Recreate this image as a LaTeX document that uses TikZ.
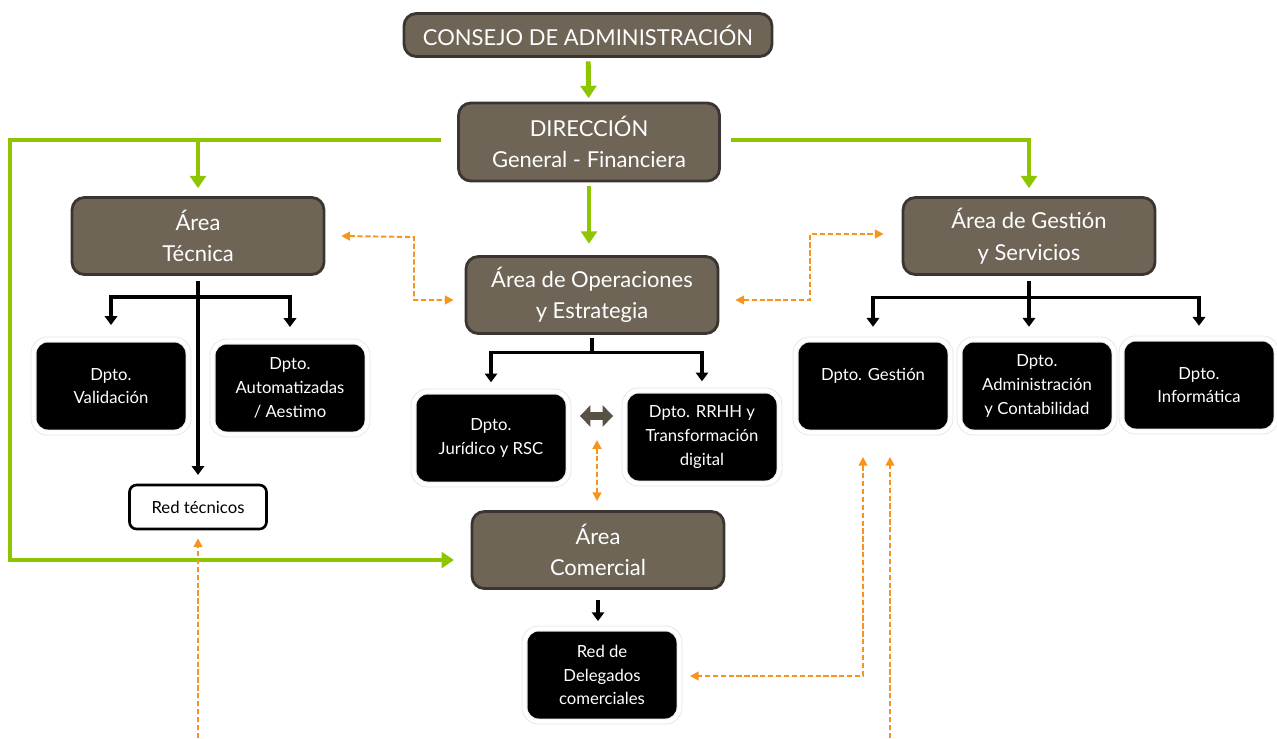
\documentclass[tikz,border=0pt]{standalone}
\usepackage{fontspec}
\setmainfont{Lato}
\usetikzlibrary{arrows.meta}
\definecolor{taupe}{RGB}{110,101,86}
\definecolor{taupedark}{RGB}{58,53,48}
\definecolor{grisflecha}{RGB}{88,81,70}
\definecolor{lima}{RGB}{141,198,0}
\definecolor{naranja}{RGB}{247,148,30}
\begin{document}
\begin{tikzpicture}[x=0.02cm, y=-0.02cm,
    area/.style={draw=taupedark, line width=1.6pt, fill=taupe, rounded corners=7pt,
        text=white, align=center, font=\fontsize{12.5}{18}\selectfont,
        minimum width=5.04cm, minimum height=1.54cm, inner sep=2pt},
    dpto/.style={draw=black!10, double=white, double distance=2.4pt, line width=0.5pt,
        fill=black, rounded corners=8pt, text=white, align=center,
        font=\fontsize{9.5}{13.5}\selectfont,
        minimum width=3.1cm, minimum height=1.86cm, inner sep=1pt},
    pnt/.tip={Triangle[length=5pt,width=5pt]},
    verde/.style={draw=lima, line width=2.8pt, -{Triangle[length=7pt,width=9pt]}},
    negro/.style={draw=black, line width=1.8pt, -{Triangle[length=5pt,width=7pt]}},
    puntos/.style={draw=naranja, line width=1.1pt, dash pattern=on 3pt off 1.5pt, pnt-pnt},
    gris/.style={draw=grisflecha, line width=4pt,
        {Triangle[length=6pt,width=12pt]}-{Triangle[length=6pt,width=12pt]}}]
\useasboundingbox (0,0) rectangle (1277,738);
% areas
\node[area, minimum width=7.36cm, minimum height=0.86cm] (consejo) at (588,35) {CONSEJO DE ADMINISTRACIÓN};
\node[area, minimum width=5.22cm, minimum height=1.56cm] (direccion) at (589,142) {DIRECCIÓN\\General - Financiera};
\node[area] (tecnica) at (198,236) {Área\\Técnica};
\node[area] (operaciones) at (592,295) {Área de Operaciones\\y Estrategia};
\node[area] (gestion) at (1029,236) {Área de Gestión\\y Servicios};
\node[area] (comercial) at (598,550) {Área\\Comercial};
% departamentos
\node[dpto] (validacion) at (111,386) {Dpto.\\Validación};
\node[dpto] (automat) at (290,388) {Dpto.\\Automatizadas\\/ Aestimo};
\node[dpto] (juridico) at (491,438) {Dpto.\\Jurídico y RSC};
\node[dpto] (rrhh) at (702,437) {Dpto. RRHH y\\Transformación\\digital};
\node[dpto] (dgestion) at (873,386) {Dpto. Gestión\\ \phantom{x}};
\node[dpto] (admin) at (1037,386) {Dpto.\\Administración\\y Contabilidad};
\node[dpto] (informatica) at (1199,385) {Dpto.\\Informática};
\node[dpto] (delegados) at (602,675) {Red de\\Delegados\\comerciales};
\node[draw=black, line width=1.5pt, fill=white, rounded corners=4pt,
    minimum width=2.74cm, minimum height=0.88cm,
    font=\fontsize{9.5}{10}\selectfont] (redtec) at (198,507) {Red técnicos};
% verdes
\draw[verde, shorten <=2pt, shorten >=2pt] (consejo) -- (direccion);
\draw[verde, shorten <=2pt, shorten >=6.5pt] (direccion.south) -- (direccion.south |- operaciones.north);
\draw[verde, shorten >=9.5pt] ([shift={(-16,-2)}]direccion.west) -| (10,560) -- ([shift={(0,10)}]comercial.west);
\draw[verde, shorten >=4.5pt] (tecnica.north |- direccion.west) ++(0,-2) -- (tecnica.north);
\draw[verde, shorten >=4.5pt] ([shift={(10,-2)}]direccion.east) -| (gestion.north);
% negros
\draw[negro, shorten <=3pt, shorten >=5pt] (tecnica.south) -- (redtec.north);
\coordinate (bt) at (198,297);
\draw[negro, shorten >=8pt] (bt) -| (validacion.north);
\draw[negro, shorten >=8pt] (bt) -| (automat.north);
\draw[line width=1.8pt, shorten <=2pt] (operaciones.south) -- ++(0,18) coordinate (bo);
\draw[negro, shorten >=5pt] (bo) -| (juridico.north);
\draw[negro, shorten >=5pt] (bo) -| (rrhh.north);
\draw[line width=1.8pt, shorten <=3pt] (gestion.south) -- ++(0,22) coordinate (bg);
\draw[negro, shorten >=7pt] (bg) -| (dgestion.north);
\draw[negro, shorten >=7pt] (bg) -- (bg |- admin.north);
\draw[negro, shorten >=7pt] (bg) -| (informatica.north);
\draw[negro, shorten <=6pt, shorten >=4pt] (comercial.south) -- (comercial.south |- delegados.north);
\draw[gris] ([shift={(11,-22)}]juridico.east) -- ([shift={(-11,-21)}]rrhh.west);
% naranjas
\draw[puntos] ([xshift=9pt]tecnica.east) -- (414,237) |- ([shift={(-11,5)}]operaciones.west);
\draw[puntos] ([shift={(16,5)}]operaciones.east) -- (810,300) |- ([shift={(-18,-2)}]gestion.west);
\coordinate (cruce) at (597,440);
\draw[puntos] (cruce) -- ([shift={(-1,-9)}]comercial.north);
\coordinate (abajoA) at (198,738);
\draw[puntos, -pnt] (abajoA) -- ([shift={(0,8)}]redtec.south);
\draw[puntos] ([shift={(-10,24)}]dgestion.south) |- ([shift={(10,1)}]delegados.east);
\coordinate (abajoB) at (890,738);
\draw[puntos, -pnt] (abajoB) -- ([shift={(17,24)}]dgestion.south);
\end{tikzpicture}
\end{document}
